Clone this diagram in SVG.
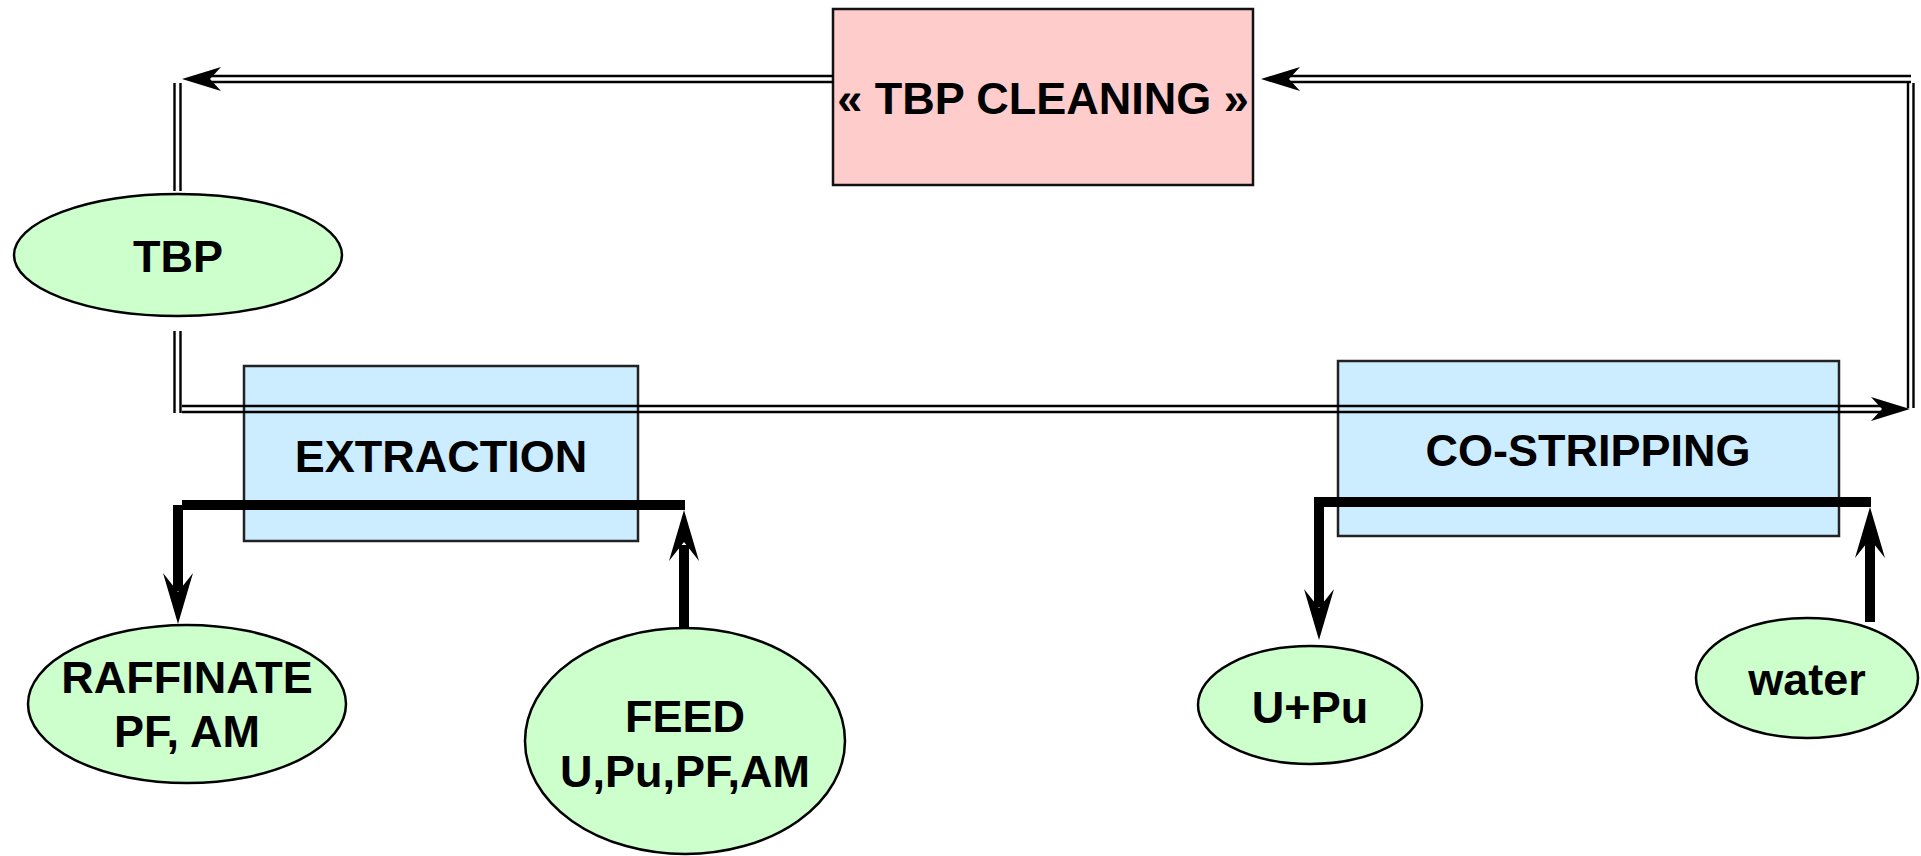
<svg xmlns="http://www.w3.org/2000/svg" xmlns:xlink="http://www.w3.org/1999/xlink" width="1921" height="856" viewBox="0 0 1921 856">
<style>
.lbl{font-family:"Liberation Sans",Arial,sans-serif;font-weight:bold;font-size:45px;fill:#000;text-anchor:middle}
.oval{fill:#CCFFCC;stroke:#000;stroke-width:2.5}
.proc{fill:#CCECFF;stroke:#222;stroke-width:2.5}
.clean{fill:#FFCCCC;stroke:#111;stroke-width:2.5}
.dl{stroke:#000;stroke-width:2.4;fill:none}
.thick{fill:#000}
</style>
<defs>
<path id="ahThick" d="M0,0 L15,-51 L0,-32 L-15,-51 Z" fill="#000"/>
<path id="ahThin" d="M0,0 L-39,-12 L-28,0 L-39,12 Z" fill="#000"/>
</defs>
<rect width="1921" height="856" fill="#fff"/>

<g id="tbp-cleaning">
<rect class="clean" x="833" y="9" width="420" height="176"/>
<text class="lbl" x="1043" y="114">« TBP CLEANING »</text>
</g>
<g id="tbp">
<ellipse class="oval" cx="178" cy="255" rx="164" ry="61"/>
<text class="lbl" x="178" y="272">TBP</text>
</g>
<g id="extraction">
<rect class="proc" x="244" y="366" width="394" height="175"/>
<text class="lbl" x="441" y="472">EXTRACTION</text>
</g>
<g id="co-stripping">
<rect class="proc" x="1338" y="361" width="501" height="175"/>
<text class="lbl" x="1588" y="466">CO-STRIPPING</text>
</g>
<g id="raffinate">
<ellipse class="oval" cx="187" cy="704" rx="159" ry="79"/>
<text class="lbl" x="187" y="693">RAFFINATE</text>
<text class="lbl" x="187" y="747">PF, AM</text>
</g>
<g id="feed">
<ellipse class="oval" cx="685" cy="741" rx="160" ry="113"/>
<text class="lbl" x="685" y="732">FEED</text>
<text class="lbl" x="685" y="787">U,Pu,PF,AM</text>
</g>
<g id="u-pu">
<ellipse class="oval" cx="1310" cy="705" rx="112" ry="59"/>
<text class="lbl" x="1310" y="723">U+Pu</text>
</g>
<g id="water">
<ellipse class="oval" cx="1807" cy="678" rx="111" ry="60"/>
<text class="lbl" x="1807" y="695">water</text>
</g>

<g id="connectors">
<!-- TBP cleaning -> TBP (top left) -->
<path class="dl" d="M833,76 H206 M833,82 H206"/>
<use xlink:href="#ahThin" transform="translate(182,79) rotate(180)"/>
<path class="dl" d="M174.5,83 V191 M180.5,83 V191"/>
<!-- TBP -> extraction -> co-stripping (solvent line) -->
<path class="dl" d="M174.5,331 V413 M180.5,331 V413"/>
<path class="dl" d="M182,406 H1884 M182,412 H1884"/>
<use xlink:href="#ahThin" transform="translate(1910,409)"/>
<!-- co-stripping -> TBP cleaning (right loop) -->
<path class="dl" d="M1908,83 V408 M1913.5,83 V408"/>
<path class="dl" d="M1911,76 H1286 M1911,82 H1286"/>
<use xlink:href="#ahThin" transform="translate(1261,79) rotate(180)"/>
<!-- extraction aqueous -->
<rect class="thick" x="182" y="500" width="503" height="10"/>
<rect class="thick" x="173" y="505" width="10" height="86"/>
<use xlink:href="#ahThick" transform="translate(178,624)"/>
<rect class="thick" x="679" y="545" width="10" height="84"/>
<use xlink:href="#ahThick" transform="translate(684,510) rotate(180)"/>
<!-- co-stripping aqueous -->
<rect class="thick" x="1314" y="497" width="557" height="10"/>
<rect class="thick" x="1314" y="502" width="10" height="105"/>
<use xlink:href="#ahThick" transform="translate(1319,640)"/>
<rect class="thick" x="1865" y="538" width="10" height="84"/>
<use xlink:href="#ahThick" transform="translate(1870,507) rotate(180)"/>
</g>
</svg>
